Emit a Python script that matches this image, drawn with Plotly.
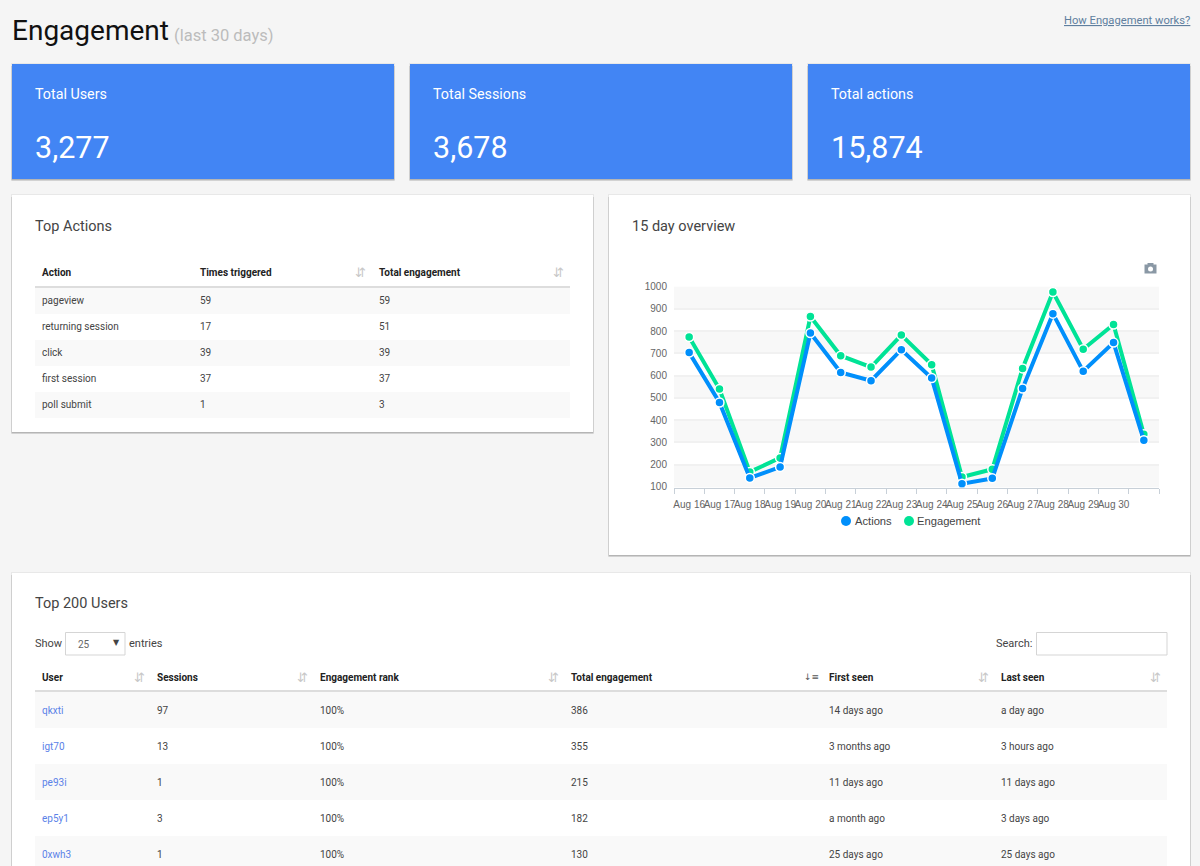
import plotly.graph_objects as go

W, H = 1200, 866

dates = ["Aug 16","Aug 17","Aug 18","Aug 19","Aug 20","Aug 21","Aug 22","Aug 23",
         "Aug 24","Aug 25","Aug 26","Aug 27","Aug 28","Aug 29","Aug 30","Aug 31"]
date_labels = dates[:15] + [""]
actions = [703,479,140,189,791,614,577,716,589,114,138,542,878,619,748,309]
engagement = [773,539,167,230,865,689,638,782,649,144,179,632,975,718,829,336]
y_ticks = [100,200,300,400,500,600,700,800,900,1000]

kpi_labels = ["Total Users","Total Sessions","Total actions"]
kpi_values = ["3,277","3,678","15,874"]

action_headers = ["Action","Times triggered","Total engagement"]
action_names = ["pageview","returning session","click","first session","poll submit"]
action_times = ["59","17","39","37","1"]
action_total = ["59","51","39","37","3"]

user_headers = ["User","Sessions","Engagement rank","Total engagement","First seen","Last seen"]
user_names = ["qkxti","igt70","pe93i","ep5y1","0xwh3"]
user_sessions = ["97","13","1","3","1"]
user_rank = ["100%","100%","100%","100%","100%"]
user_total = ["386","355","215","182","130"]
user_first = ["14 days ago","3 months ago","11 days ago","a month ago","25 days ago"]
user_last = ["a day ago","3 hours ago","11 days ago","3 days ago","25 days ago"]

BLUE = "#008ffb"
GREEN = "#00e396"
FONT = "Roboto"

shapes, notes = [], []

def px(x): return x / W
def py(y): return 1 - y / H

def rect(x0, y0, x1, y1, fill, line=None, layer="below"):
    shapes.append(dict(type="rect", xref="paper", yref="paper", x0=px(x0), x1=px(x1),
                       y0=py(y1), y1=py(y0), fillcolor=fill, layer=layer,
                       line=dict(color=line or fill, width=1 if line else 0)))

def dot(cx, cy, r, fill):
    shapes.append(dict(type="circle", xref="paper", yref="paper", x0=px(cx - r), x1=px(cx + r),
                       y0=py(cy + r), y1=py(cy - r), fillcolor=fill, line=dict(width=0), layer="below"))

def text(x, y, s, size=10, color="#333", anchor="left", family=FONT):
    notes.append(dict(xref="paper", yref="paper", x=px(x), y=py(y), text=s, showarrow=False,
                      xanchor=anchor, yanchor="middle", borderpad=0, borderwidth=0,
                      font=dict(size=size, color=color, family=family)))

def card(x0, y0, x1, y1, fill="#ffffff"):
    rect(x0 - 1, y0 - 1, x1 + 1, y1 + 1.5, "#e8e8e8")
    rect(x0 - 0.5, y0 + 2, x1 + 0.5, y1 + 1.5, "#b5b5b5")
    rect(x0, y0, x1, y1, fill)

# page heading
text(12, 31, "Engagement", 28, "#111111")
text(174, 35, "(last 30 days)", 16.5, "#bcbcbc")
text(1190, 20, "<u>How Engagement works?</u>", 11.2, "#5f7f9f", "right")

# KPI cards
for (x0, x1), lab, val in zip([(12,394),(410,792),(808,1190)], kpi_labels, kpi_values):
    card(x0, 64, x1, 179, "#4285f4")
    text(x0 + 23, 94, lab, 14.3, "#ffffff")
    text(x0 + 23, 147, val, 30.5, "#ffffff")

# panels
card(12, 195, 593, 432)
card(609, 195, 1190, 555)
card(12, 573, 1190, 880)
text(35, 226, "Top Actions", 14.5, "#444444")
text(632, 226, "15 day overview", 14.5, "#444444")
text(35, 603, "Top 200 Users", 14.5, "#444444")

# top actions table
for x, h in zip([42, 200, 379], action_headers):
    text(x, 272, f"<b>{h}</b>", 10, "#222222")
for x in [360, 558]:
    text(x, 272, "⇵", 13, "#c8c8c8", "center", "DejaVu Sans")
rect(35, 286, 570, 288, "#dddddd")
for i, row in enumerate(zip(action_names, action_times, action_total)):
    top = 288 + 26 * i
    if i % 2 == 0:
        rect(35, top, 570, top + 26, "#f9f9f9")
    for x, v in zip([42, 200, 379], row):
        text(x, top + 12.5, v, 10, "#444444")

# users table controls
text(35, 643, "Show", 11, "#444444")
rect(65.5, 632.5, 125, 655, "#ffffff", "#d5d5d5")
text(78, 644, "25", 10, "#666666")
text(116, 642, "▼", 8, "#444444", "center", "DejaVu Sans")
text(129, 643, "entries", 11, "#444444")
text(1032, 643, "Search:", 11, "#444444", "right")
rect(1036.5, 632.5, 1167, 655, "#ffffff", "#d5d5d5")

# users table
ux = [42, 157, 320, 571, 829, 1001]
for x, h in zip(ux, user_headers):
    text(x, 677, f"<b>{h}</b>", 10, "#222222")
for x in [139, 302, 553, 983, 1155]:
    text(x, 677, "⇵", 13, "#c8c8c8", "center", "DejaVu Sans")
text(811, 677, "↓≡", 9, "#555555", "center", "DejaVu Sans")
rect(35, 690, 1167, 692, "#dddddd")
for i, row in enumerate(zip(user_names, user_sessions, user_rank, user_total, user_first, user_last)):
    top = 692 + 36 * i
    if i % 2 == 0:
        rect(35, top, 1167, min(top + 36, 880), "#f9f9f9")
    for j, (x, v) in enumerate(zip(ux, row)):
        text(x, top + 18, v, 10, "#5b82e8" if j == 0 else "#444444")

# camera icon
rect(1144.5, 264.5, 1156.5, 273.5, "#8a98a5")
rect(1147.5, 263, 1153.5, 265, "#8a98a5")
dot(1150.5, 269, 2.5, "#ffffff")

# chart legend
dot(846, 521, 5, BLUE)
text(855, 521, "Actions", 11.2, "#444444", "left", "Liberation Sans")
dot(909, 521, 5, GREEN)
text(917, 521, "Engagement", 11.2, "#444444", "left", "Liberation Sans")

# chart bands
for lo in y_ticks[::2]:
    shapes.append(dict(type="rect", xref="paper", yref="y", x0=px(674), x1=px(1159),
                       y0=lo if lo > 100 else 97, y1=lo + 100, fillcolor="#f8f8f8",
                       line=dict(width=0), layer="below"))

fig = go.Figure()

def series(name, vals, color):
    fig.add_trace(go.Scatter(x=dates, y=vals, name=name, mode="lines+markers", showlegend=False,
                             line=dict(color=color, width=4),
                             marker=dict(size=9, color=color, line=dict(color="#ffffff", width=1.5))))

series("Engagement", engagement, GREEN)
series("Actions", actions, BLUE)

fig.update_layout(
    width=W, height=H, autosize=False, margin=dict(l=0, r=0, t=0, b=0, autoexpand=False),
    paper_bgcolor="#f5f5f5", plot_bgcolor="rgba(0,0,0,0)",
    shapes=shapes, annotations=notes, showlegend=False,
    font=dict(family="Liberation Sans", size=10, color="#555555"),
    hovermode="x",
    xaxis=dict(domain=[px(674), px(1159)], type="category", categoryorder="array", categoryarray=dates,
               range=[-0.5, 15.5], tickmode="array", tickvals=dates, ticktext=date_labels,
               tickson="boundaries", ticks="outside", ticklen=5, tickcolor="#c8d0d8", tickwidth=1,
               showgrid=False, showline=True, linecolor="#c8d0d8", linewidth=1, zeroline=False,
               tickangle=0, tickfont=dict(size=10, color="#666666"), ticklabelstandoff=7),
    yaxis=dict(domain=[py(487.5), py(286.5)], range=[97, 1000], tickmode="array", tickvals=y_ticks,
               showgrid=True, gridcolor="#f1f1f1", gridwidth=1.5, zeroline=False, showline=False,
               tickfont=dict(size=10, color="#666666"), ticks="", ticklabelstandoff=6),
)

fig.write_html("out.html", config=dict(displayModeBar=False),
               post_script="document.body.style.margin='0';document.documentElement.style.overflow='hidden';")
